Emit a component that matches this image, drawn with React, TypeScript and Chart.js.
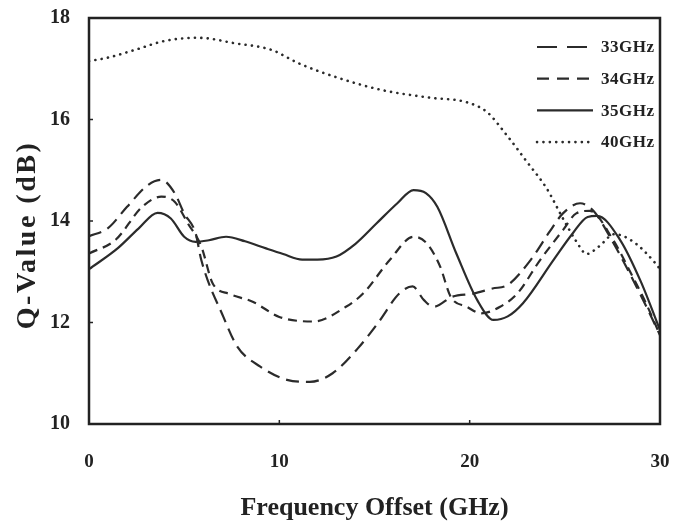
import React, { useEffect, useRef } from "react";
import { Chart, registerables } from "chart.js";

Chart.register(...registerables);

const seriesNames = ["33GHz", "34GHz", "35GHz", "40GHz"];

const x33 = [0, 1, 2, 3.1, 3.8, 4.5, 5.0, 5.6, 5.9, 7.06, 7.8, 9.0, 10.4, 11.6, 12.8, 14.1, 15.2, 16.3, 17.0, 17.6, 18.1, 19.1, 20.2, 21.2, 22.0, 23.2, 24.2, 24.9, 25.8, 26.5, 27.5, 28.5, 29.3, 30];
const y33 = [13.7, 13.86, 14.28, 14.71, 14.81, 14.55, 14.15, 13.76, 13.23, 12.11, 11.52, 11.13, 10.87, 10.83, 11.0, 11.48, 12.0, 12.57, 12.71, 12.44, 12.31, 12.51, 12.57, 12.67, 12.74, 13.23, 13.79, 14.15, 14.35, 14.2, 13.6, 12.9, 12.3, 11.75];

const x34 = [0, 1.4, 2.8, 3.8, 4.5, 5.2, 5.9, 6.5, 7.4, 8.6, 10.0, 11.8, 13.5, 14.4, 15.8, 17.05, 17.75, 18.45, 19.0, 19.85, 20.6, 21.6, 22.5, 23.7, 24.9, 25.6, 26.3, 27.5, 28.5, 29.3, 30];
const y34 = [13.36, 13.63, 14.28, 14.48, 14.38, 13.95, 13.5, 12.77, 12.56, 12.41, 12.11, 12.02, 12.31, 12.57, 13.23, 13.69, 13.56, 13.1, 12.51, 12.31, 12.18, 12.31, 12.57, 13.23, 13.82, 14.15, 14.2, 13.65, 12.95, 12.35, 11.75];

const x35 = [0, 1.5, 2.6, 3.6, 4.3, 5.0, 5.6, 6.3, 7.2, 8.2, 9.3, 10.2, 11.2, 12.0, 13.0, 14.0, 15.1, 16.2, 17.05, 17.7, 18.3, 19.3, 20.4, 21.25, 22.0, 22.8, 24.4, 25.4, 26.2, 26.7, 27.9, 29.0, 30];
const y35 = [13.05, 13.46, 13.85, 14.16, 14.05, 13.69, 13.59, 13.62, 13.69, 13.6, 13.46, 13.35, 13.24, 13.24, 13.3, 13.55, 13.95, 14.35, 14.61, 14.55, 14.28, 13.36, 12.44, 12.05, 12.12, 12.38, 13.23, 13.75, 14.08, 14.1, 13.63, 12.8, 11.85];

const x40 = [0, 1, 2.4, 4.0, 5.75, 7.7, 9.6, 11.0, 13.1, 15.4, 17.9, 19.85, 20.9, 21.95, 23.0, 24.05, 24.9, 25.6, 26.15, 26.8, 27.6, 28.6, 29.8, 30];
const y40 = [17.15, 17.22, 17.37, 17.55, 17.61, 17.5, 17.37, 17.11, 16.82, 16.58, 16.43, 16.34, 16.15, 15.69, 15.17, 14.64, 14.05, 13.6, 13.35, 13.5, 13.74, 13.59, 13.15, 13.05];

const xTicks = [0, 10, 20, 30];
const yTicks = [10, 12, 14, 16, 18];

const xTitle = "Frequency Offset (GHz)";
const yTitle = "Q-Value (dB)";

const LINE = "#2b2b2b";
const FONT = "'Liberation Serif', 'Times New Roman', serif";
const dashes: number[][] = [[13, 7], [9, 6], [], [0.1, 6.3]];
const widths = [2.2, 2.2, 2.2, 2.6];

const pts = (xs: number[], ys: number[]) => xs.map((x, i) => ({ x, y: ys[i] }));

export default function App() {
  const ref = useRef<HTMLCanvasElement | null>(null);
  useEffect(() => {
    document.body.style.margin = "0";
    const canvas = ref.current!;
    const all = [pts(x33, y33), pts(x34, y34), pts(x35, y35), pts(x40, y40)];
    const framePlugin = {
      id: "frame",
      afterDraw(chart: any) {
        const { ctx, chartArea: a, scales } = chart;
        ctx.save();
        ctx.strokeStyle = "#222";
        ctx.lineWidth = 2.5;
        ctx.strokeRect(a.left, a.top, a.right - a.left, a.bottom - a.top);
        ctx.lineWidth = 1.5;
        for (const v of yTicks) {
          if (v === 10 || v === 18) continue;
          const y = scales.y.getPixelForValue(v);
          ctx.beginPath();
          ctx.moveTo(a.left, y);
          ctx.lineTo(a.left + 4, y);
          ctx.stroke();
        }
        for (const v of xTicks) {
          if (v === 0 || v === 30) continue;
          const x = scales.x.getPixelForValue(v);
          ctx.beginPath();
          ctx.moveTo(x, a.bottom);
          ctx.lineTo(x, a.bottom - 4);
          ctx.stroke();
        }
        // legend
        const lx0 = a.right - 123;
        const lx1 = a.right - 67;
        const tx = a.right - 59;
        seriesNames.forEach((name, i) => {
          const y = a.top + 29 + i * 31.7;
          ctx.strokeStyle = LINE;
          ctx.lineWidth = widths[i];
          ctx.lineCap = i === 3 ? "round" : "butt";
          ctx.setLineDash(i === 0 ? [20, 10] : i === 1 ? [12, 8] : dashes[i]);
          ctx.beginPath();
          ctx.moveTo(lx0, y);
          ctx.lineTo(lx1, y);
          ctx.stroke();
          ctx.setLineDash([]);
          ctx.fillStyle = "#222";
          ctx.font = `bold 17px ${FONT}`;
          (ctx as any).letterSpacing = "0.5px";
          ctx.textAlign = "left";
          ctx.textBaseline = "middle";
          ctx.fillText(name, tx, y + 1);
        });
        (ctx as any).letterSpacing = "0px";
        // axis titles
        ctx.fillStyle = "#222";
        ctx.font = `bold 26px ${FONT}`;
        ctx.textAlign = "center";
        ctx.textBaseline = "alphabetic";
        ctx.fillText(xTitle, (a.left + a.right) / 2, 515);
        ctx.font = `bold 28px ${FONT}`;
        (ctx as any).letterSpacing = "2.5px";
        ctx.translate(35, 236);
        ctx.rotate(-Math.PI / 2);
        ctx.fillText(yTitle, 1, 0);
        ctx.restore();
      },
    };
    const chart = new Chart(canvas, {
      type: "line",
      data: {
        datasets: all.map((d, i) => ({
          label: seriesNames[i],
          data: d,
          borderColor: LINE,
          borderWidth: widths[i],
          borderDash: dashes[i],
          borderCapStyle: i === 3 ? "round" : "butt",
          pointRadius: 0,
          fill: false,
          cubicInterpolationMode: "monotone",
        })) as any,
      },
      options: {
        animation: false,
        responsive: false,
        layout: { padding: { top: 18, right: 16, left: 0, bottom: 0 } },
        plugins: { legend: { display: false }, tooltip: { enabled: false } },
        scales: {
          x: {
            type: "linear",
            min: 0,
            max: 30,
            grid: { display: false, drawTicks: false },
            border: { display: false },
            afterBuildTicks: (s: any) => {
              s.ticks = xTicks.map((v) => ({ value: v }));
            },
            afterFit: (s: any) => {
              s.height = 103;
              s.paddingLeft = 0;
              s.paddingRight = 0;
            },
            ticks: {
              padding: 27,
              color: "#222",
              font: { family: FONT, size: 19, weight: "bold" },
              maxRotation: 0,
            },
          },
          y: {
            type: "linear",
            min: 10,
            max: 18,
            grid: { display: false, drawTicks: false },
            border: { display: false },
            afterBuildTicks: (s: any) => {
              s.ticks = yTicks.map((v) => ({ value: v }));
            },
            afterFit: (s: any) => {
              s.width = 89;
              s.paddingTop = 0;
              s.paddingBottom = 0;
            },
            ticks: {
              padding: 19,
              color: "#222",
              font: { family: FONT, size: 20, weight: "bold" },
            },
          },
        },
      },
      plugins: [framePlugin],
    });
    return () => chart.destroy();
  }, []);
  return (
    <div style={{ position: "absolute", left: 0, top: 0, width: 676, height: 527, background: "#fff" }}>
      <canvas ref={ref} width={676} height={527} />
    </div>
  );
}
